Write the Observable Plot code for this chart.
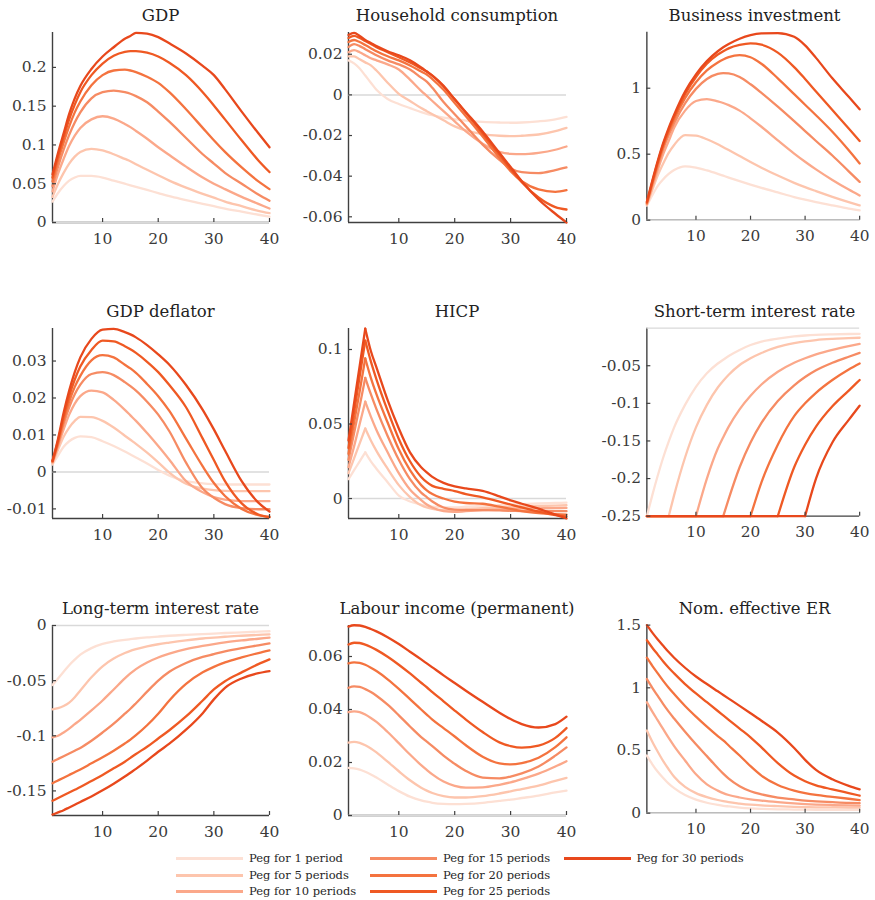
<!DOCTYPE html>
<html>
<head>
<meta charset="utf-8">
<script src="https://cdn.jsdelivr.net/npm/d3@7"></script>
<script src="https://cdn.jsdelivr.net/npm/@observablehq/plot@0.6"></script>
<style>
  html, body { margin: 0; padding: 0; background: #fff; }
  body { width: 875px; height: 900px; position: relative; overflow: hidden; font-family: "DejaVu Serif", serif; }
  .panel { position: absolute; }
  .title { position: absolute; text-align: center; font-size: 16.5px; line-height: 24px; color: #222; white-space: nowrap; }
  .legend-item { position: absolute; height: 16px; display: flex; align-items: center; font-size: 11.5px; color: #262626; white-space: nowrap; }
  .swatch { display: inline-block; width: 67px; height: 2.8px; margin-right: 6px; }
</style>
</head>
<body>
<script>
// ---------------- DATA ----------------
const periods = [1, 2, 3, 4, 5, 6, 8, 10, 12, 14, 15, 16, 18, 20, 22, 25, 28, 30, 32, 35, 38, 40];
const pegLengths = [1, 5, 10, 15, 20, 25, 30];
const seriesLabels = ["Peg for 1 period", "Peg for 5 periods", "Peg for 10 periods", "Peg for 15 periods",
                      "Peg for 20 periods", "Peg for 25 periods", "Peg for 30 periods"];
const pegColors = ["#fde0d4", "#fdc5ad", "#fba88a", "#f68b63", "#f4733f", "#ef5923", "#e8481c"];
const xTicks = [10, 20, 30, 40];

const gdp = [
  [0.027,0.038,0.047,0.054,0.058,0.060,0.060,0.058,0.054,0.050,0.048,0.046,0.042,0.038,0.034,0.029,0.024,0.021,0.018,0.014,0.010,0.0075],
  [0.033,0.050,0.064,0.076,0.085,0.091,0.095,0.093,0.088,0.082,0.079,0.075,0.068,0.061,0.054,0.045,0.037,0.032,0.027,0.021,0.015,0.012],
  [0.040,0.063,0.082,0.099,0.112,0.122,0.133,0.137,0.134,0.127,0.123,0.118,0.108,0.097,0.087,0.072,0.058,0.050,0.043,0.033,0.024,0.018],
  [0.047,0.072,0.094,0.113,0.129,0.142,0.160,0.168,0.170,0.168,0.166,0.163,0.155,0.143,0.130,0.109,0.088,0.076,0.064,0.050,0.036,0.028],
  [0.053,0.080,0.103,0.124,0.142,0.156,0.177,0.190,0.196,0.197,0.196,0.194,0.188,0.180,0.168,0.146,0.122,0.106,0.091,0.071,0.053,0.043],
  [0.058,0.086,0.110,0.133,0.152,0.168,0.190,0.205,0.215,0.220,0.221,0.221,0.219,0.214,0.206,0.190,0.168,0.151,0.133,0.106,0.080,0.065],
  [0.062,0.090,0.115,0.140,0.160,0.176,0.198,0.214,0.226,0.237,0.2405,0.2445,0.2435,0.239,0.231,0.218,0.202,0.190,0.172,0.143,0.115,0.097]
];
const gdpTicks = [0, 0.05, 0.1, 0.15, 0.2];

const consumption = [
  [0.017,0.0155,0.013,0.0095,0.006,0.0025,-0.002,-0.0045,-0.0065,-0.0085,-0.0093,-0.010,-0.0112,-0.012,-0.0127,-0.0133,-0.0136,-0.0137,-0.0136,-0.013,-0.012,-0.0108],
  [0.019,0.019,0.0175,0.016,0.0145,0.012,0.006,0.0005,-0.003,-0.0065,-0.008,-0.0095,-0.0125,-0.0155,-0.0175,-0.0193,-0.0201,-0.0203,-0.0201,-0.0195,-0.0178,-0.0162],
  [0.021,0.022,0.021,0.0195,0.018,0.017,0.015,0.0125,0.0075,0.002,-0.0005,-0.003,-0.008,-0.013,-0.018,-0.024,-0.028,-0.029,-0.0292,-0.0285,-0.027,-0.0254],
  [0.0235,0.025,0.024,0.0225,0.021,0.0195,0.017,0.015,0.0125,0.0085,0.0065,0.0035,-0.0035,-0.0095,-0.0155,-0.0245,-0.032,-0.0362,-0.038,-0.0385,-0.037,-0.0357],
  [0.026,0.027,0.026,0.0245,0.023,0.0215,0.019,0.017,0.0145,0.0115,0.010,0.0078,0.0025,-0.004,-0.0105,-0.0205,-0.031,-0.0375,-0.0425,-0.0465,-0.0477,-0.0469],
  [0.028,0.029,0.028,0.0265,0.025,0.0235,0.021,0.0185,0.016,0.013,0.0115,0.0095,0.0042,-0.0022,-0.0088,-0.019,-0.0295,-0.0365,-0.043,-0.0505,-0.0552,-0.0564],
  [0.0295,0.0305,0.029,0.027,0.0255,0.024,0.0215,0.0195,0.017,0.0135,0.0115,0.0095,0.0045,-0.0022,-0.0085,-0.018,-0.0285,-0.0355,-0.0425,-0.0515,-0.0585,-0.0628]
];
const consumptionTicks = [-0.06, -0.04, -0.02, 0, 0.02];

const investment = [
  [0.11,0.19,0.26,0.31,0.35,0.38,0.408,0.398,0.377,0.351,0.337,0.323,0.296,0.27,0.245,0.21,0.175,0.155,0.137,0.112,0.088,0.075],
  [0.115,0.23,0.34,0.43,0.51,0.57,0.645,0.64,0.613,0.575,0.553,0.531,0.486,0.441,0.398,0.338,0.283,0.25,0.22,0.177,0.137,0.112],
  [0.12,0.25,0.38,0.50,0.60,0.70,0.83,0.903,0.918,0.90,0.888,0.872,0.83,0.772,0.708,0.605,0.505,0.443,0.385,0.305,0.232,0.187],
  [0.125,0.27,0.41,0.54,0.645,0.735,0.885,0.995,1.07,1.108,1.114,1.112,1.085,1.03,0.965,0.86,0.75,0.675,0.60,0.49,0.37,0.29],
  [0.13,0.28,0.43,0.56,0.67,0.765,0.925,1.045,1.135,1.195,1.218,1.235,1.25,1.235,1.185,1.075,0.955,0.875,0.795,0.67,0.53,0.43],
  [0.135,0.29,0.44,0.575,0.685,0.785,0.955,1.085,1.185,1.255,1.28,1.302,1.328,1.34,1.33,1.27,1.16,1.07,0.975,0.835,0.695,0.60],
  [0.14,0.30,0.45,0.585,0.70,0.80,0.975,1.105,1.205,1.28,1.31,1.335,1.375,1.402,1.415,1.418,1.39,1.325,1.23,1.075,0.935,0.84]
];
const investmentTicks = [0, 0.5, 1];

const deflator = [
  [0.002,0.0045,0.0068,0.0083,0.0092,0.0096,0.0094,0.0083,0.007,0.0055,0.0047,0.0039,0.0023,0.0005,-0.001,-0.0025,-0.0031,-0.0033,-0.0034,-0.0034,-0.0034,-0.0034],
  [0.0022,0.006,0.0095,0.012,0.0138,0.0149,0.0148,0.0138,0.012,0.0098,0.0087,0.0076,0.0052,0.0026,-0.0002,-0.0032,-0.0045,-0.0049,-0.0051,-0.0052,-0.0052,-0.0052],
  [0.0025,0.007,0.0115,0.0155,0.0185,0.0205,0.022,0.0215,0.0195,0.0168,0.0153,0.0138,0.0105,0.007,0.0033,-0.0025,-0.0055,-0.0068,-0.0075,-0.0079,-0.0079,-0.0079],
  [0.0027,0.0075,0.013,0.0175,0.021,0.0236,0.0265,0.027,0.0262,0.0243,0.0232,0.022,0.019,0.0155,0.011,0.0025,-0.0045,-0.007,-0.0087,-0.0098,-0.0101,-0.0101],
  [0.0028,0.008,0.014,0.019,0.023,0.026,0.0302,0.0316,0.031,0.029,0.028,0.0268,0.0238,0.0205,0.0165,0.009,0.0015,-0.003,-0.0065,-0.010,-0.0117,-0.0121],
  [0.003,0.0085,0.015,0.0205,0.025,0.0285,0.033,0.0355,0.0353,0.034,0.0332,0.0322,0.0298,0.027,0.0235,0.0175,0.009,0.0032,-0.0025,-0.0085,-0.0115,-0.0123],
  [0.003,0.009,0.016,0.022,0.027,0.031,0.036,0.0385,0.0387,0.0378,0.0372,0.0364,0.0343,0.0318,0.029,0.0235,0.0168,0.0115,0.0058,-0.0025,-0.0083,-0.0107]
];
const deflatorTicks = [-0.01, 0, 0.01, 0.02, 0.03];

const hicp = [
  [0.013,0.019,0.025,0.031,0.025,0.020,0.011,0.002,-0.002,-0.004,-0.005,-0.0055,-0.006,-0.006,-0.0055,-0.005,-0.0045,-0.004,-0.0037,-0.0033,-0.003,-0.0028],
  [0.017,0.027,0.037,0.047,0.039,0.032,0.020,0.009,0.001,-0.0045,-0.006,-0.007,-0.0078,-0.0078,-0.0072,-0.0065,-0.006,-0.0056,-0.0053,-0.005,-0.0047,-0.0045],
  [0.021,0.035,0.050,0.065,0.055,0.046,0.031,0.017,0.006,-0.001,-0.004,-0.006,-0.0085,-0.009,-0.0085,-0.0078,-0.0073,-0.007,-0.0068,-0.0066,-0.0064,-0.0063],
  [0.026,0.044,0.062,0.081,0.070,0.060,0.042,0.026,0.013,0.004,0.001,-0.002,-0.006,-0.0075,-0.0078,-0.0078,-0.008,-0.0082,-0.0084,-0.0085,-0.0085,-0.0085],
  [0.030,0.051,0.072,0.094,0.081,0.070,0.051,0.033,0.019,0.009,0.0055,0.003,0.0,-0.002,-0.003,-0.0035,-0.0055,-0.007,-0.0085,-0.0098,-0.0105,-0.0108],
  [0.034,0.058,0.082,0.106,0.092,0.080,0.059,0.040,0.025,0.0145,0.011,0.0085,0.0065,0.005,0.003,0.0008,-0.002,-0.004,-0.006,-0.0088,-0.0112,-0.0122],
  [0.039,0.064,0.089,0.114,0.099,0.088,0.066,0.047,0.031,0.021,0.0175,0.0145,0.0105,0.0082,0.0068,0.0052,0.0015,-0.0012,-0.0035,-0.0068,-0.0108,-0.0134]
];
const hicpTicks = [0, 0.05, 0.1];
const hicpPeakPeriod = 4;

const shortRate = [
  [-0.25,-0.222,-0.196,-0.172,-0.151,-0.132,-0.102,-0.078,-0.06,-0.047,-0.042,-0.037,-0.029,-0.0225,-0.018,-0.014,-0.011,-0.0098,-0.009,-0.0083,-0.0078,-0.0075],
  [-0.25,-0.25,-0.25,-0.25,-0.25,-0.222,-0.172,-0.132,-0.102,-0.079,-0.07,-0.062,-0.049,-0.04,-0.033,-0.025,-0.02,-0.0175,-0.0158,-0.0143,-0.0134,-0.0128],
  [-0.25,-0.25,-0.25,-0.25,-0.25,-0.25,-0.25,-0.25,-0.2,-0.16,-0.145,-0.131,-0.108,-0.09,-0.075,-0.058,-0.046,-0.04,-0.035,-0.029,-0.024,-0.021],
  [-0.25,-0.25,-0.25,-0.25,-0.25,-0.25,-0.25,-0.25,-0.25,-0.25,-0.25,-0.227,-0.185,-0.152,-0.126,-0.097,-0.076,-0.065,-0.056,-0.046,-0.038,-0.033],
  [-0.25,-0.25,-0.25,-0.25,-0.25,-0.25,-0.25,-0.25,-0.25,-0.25,-0.25,-0.25,-0.25,-0.25,-0.205,-0.155,-0.117,-0.1,-0.086,-0.069,-0.055,-0.047],
  [-0.25,-0.25,-0.25,-0.25,-0.25,-0.25,-0.25,-0.25,-0.25,-0.25,-0.25,-0.25,-0.25,-0.25,-0.25,-0.25,-0.185,-0.155,-0.131,-0.104,-0.083,-0.069],
  [-0.25,-0.25,-0.25,-0.25,-0.25,-0.25,-0.25,-0.25,-0.25,-0.25,-0.25,-0.25,-0.25,-0.25,-0.25,-0.25,-0.25,-0.25,-0.2,-0.152,-0.122,-0.103]
];
const shortRateTicks = [-0.25, -0.2, -0.15, -0.1, -0.05];

const longRate = [
  [-0.054,-0.048,-0.042,-0.036,-0.031,-0.0265,-0.0205,-0.0167,-0.0145,-0.013,-0.0124,-0.0118,-0.0108,-0.010,-0.0093,-0.0085,-0.0078,-0.0073,-0.0068,-0.0062,-0.0056,-0.0052],
  [-0.076,-0.075,-0.073,-0.070,-0.065,-0.059,-0.047,-0.037,-0.030,-0.025,-0.023,-0.0215,-0.019,-0.017,-0.0155,-0.0135,-0.0118,-0.011,-0.0102,-0.0093,-0.0085,-0.008],
  [-0.1015,-0.100,-0.097,-0.0935,-0.0895,-0.0855,-0.077,-0.068,-0.058,-0.048,-0.0435,-0.0395,-0.0335,-0.029,-0.0255,-0.0215,-0.0185,-0.0168,-0.0153,-0.0135,-0.012,-0.011],
  [-0.1235,-0.121,-0.1185,-0.116,-0.1135,-0.111,-0.1045,-0.097,-0.089,-0.080,-0.0755,-0.0705,-0.060,-0.050,-0.042,-0.034,-0.0285,-0.026,-0.0235,-0.0205,-0.018,-0.0163],
  [-0.143,-0.1405,-0.138,-0.1355,-0.133,-0.1305,-0.125,-0.1195,-0.1135,-0.107,-0.1035,-0.0995,-0.0905,-0.080,-0.068,-0.053,-0.0425,-0.0375,-0.0335,-0.029,-0.025,-0.0226],
  [-0.159,-0.1565,-0.154,-0.1515,-0.149,-0.1465,-0.141,-0.1355,-0.1295,-0.1235,-0.120,-0.1165,-0.110,-0.1025,-0.095,-0.0825,-0.068,-0.058,-0.0505,-0.0425,-0.035,-0.0307],
  [-0.1715,-0.1695,-0.1675,-0.165,-0.1625,-0.160,-0.155,-0.1495,-0.1435,-0.137,-0.1335,-0.130,-0.1225,-0.1145,-0.1072,-0.0945,-0.0795,-0.067,-0.0565,-0.048,-0.0432,-0.0413]
];
const longRateTicks = [-0.15, -0.1, -0.05, 0];

const labourIncome = [
  [0.018,0.0178,0.0173,0.0165,0.0155,0.0143,0.0117,0.0092,0.0071,0.0057,0.0052,0.0048,0.0044,0.0043,0.0044,0.0048,0.0055,0.006,0.0066,0.0075,0.0087,0.0094],
  [0.0275,0.0278,0.0274,0.0265,0.0253,0.0238,0.0203,0.0167,0.0133,0.0105,0.0094,0.0085,0.0073,0.0068,0.0068,0.0073,0.0083,0.0091,0.010,0.0113,0.0131,0.0142],
  [0.039,0.0393,0.039,0.0381,0.0368,0.0353,0.0315,0.0273,0.023,0.019,0.0172,0.0155,0.0128,0.0112,0.0105,0.0106,0.0116,0.0125,0.0137,0.0158,0.0185,0.0205],
  [0.0482,0.0487,0.0485,0.0477,0.0466,0.0452,0.0418,0.0378,0.0336,0.0296,0.0279,0.0262,0.0226,0.0195,0.0168,0.0143,0.014,0.0147,0.0159,0.0185,0.0226,0.0257],
  [0.0574,0.0578,0.0576,0.0569,0.0558,0.0545,0.0514,0.0478,0.0439,0.040,0.0381,0.0362,0.033,0.0298,0.0265,0.0222,0.0197,0.0193,0.0198,0.0218,0.0258,0.0295],
  [0.0645,0.0652,0.0651,0.0645,0.0636,0.0625,0.0599,0.0569,0.0536,0.0501,0.0484,0.0466,0.0431,0.0396,0.0362,0.0315,0.0276,0.0262,0.0256,0.0264,0.0293,0.033],
  [0.0713,0.0718,0.0717,0.0712,0.0704,0.0695,0.0673,0.0647,0.0618,0.0589,0.0574,0.0559,0.0529,0.050,0.0471,0.0429,0.0388,0.0364,0.0345,0.0332,0.0345,0.0373]
];
const labourIncomeTicks = [0, 0.02, 0.04, 0.06];

const exchangeRate = [
  [0.46,0.39,0.33,0.28,0.235,0.20,0.145,0.108,0.083,0.066,0.059,0.054,0.045,0.039,0.035,0.031,0.029,0.028,0.027,0.027,0.026,0.026],
  [0.66,0.57,0.49,0.415,0.35,0.29,0.21,0.16,0.128,0.105,0.096,0.088,0.077,0.068,0.062,0.056,0.051,0.049,0.047,0.046,0.045,0.045],
  [0.885,0.81,0.74,0.67,0.60,0.535,0.42,0.31,0.23,0.18,0.16,0.145,0.125,0.11,0.10,0.088,0.078,0.073,0.069,0.065,0.062,0.06],
  [1.07,1.0,0.935,0.87,0.81,0.755,0.65,0.55,0.455,0.36,0.315,0.275,0.215,0.175,0.15,0.125,0.11,0.10,0.095,0.088,0.082,0.08],
  [1.24,1.175,1.115,1.055,1.0,0.95,0.855,0.77,0.69,0.615,0.58,0.54,0.46,0.375,0.30,0.225,0.18,0.16,0.145,0.13,0.115,0.105],
  [1.38,1.32,1.265,1.21,1.16,1.115,1.03,0.955,0.885,0.815,0.78,0.745,0.675,0.605,0.525,0.40,0.30,0.255,0.222,0.19,0.16,0.14],
  [1.5,1.44,1.385,1.335,1.285,1.24,1.16,1.09,1.03,0.972,0.943,0.914,0.856,0.797,0.737,0.643,0.52,0.425,0.345,0.27,0.218,0.19]
];
const exchangeRateTicks = [0, 0.5, 1, 1.5];

// ---------------- PANELS ----------------
const panels = [
  {title: "GDP", data: gdp, domain: [0, 0.245], ticks: gdpTicks},
  {title: "Household consumption", data: consumption, domain: [-0.0628, 0.0307], ticks: consumptionTicks},
  {title: "Business investment", data: investment, domain: [0, 1.425], ticks: investmentTicks},
  {title: "GDP deflator", data: deflator, domain: [-0.0126, 0.0388], ticks: deflatorTicks},
  {title: "HICP", data: hicp, domain: [-0.0134, 0.1141], ticks: hicpTicks, kink: () => hicpPeakPeriod},
  {title: "Short-term interest rate", data: shortRate, domain: [-0.25, 0], ticks: shortRateTicks, kink: s => pegLengths[s]},
  {title: "Long-term interest rate", data: longRate, domain: [-0.1723, 0], ticks: longRateTicks},
  {title: "Labour income (permanent)", data: labourIncome, domain: [0, 0.0717], ticks: labourIncomeTicks},
  {title: "Nom. effective ER", data: exchangeRate, domain: [0, 1.5], ticks: exchangeRateTicks}
];

// ---------------- LAYOUT ----------------
const colLeft = [52, 348, 647];
const colWidth = [217, 218, 215];
const rowTop = [32, 328, 624.5];
const plotH = 190;
const mL = 62, mR = 16, mT = 36, mB = 34;
const axisColor = "#404040", zeroColor = "#d9d9d9", textColor = "#3a3a3a";

panels.forEach((p, idx) => {
  const col = idx % 3, row = Math.floor(idx / 3);
  const W = colWidth[col];
  const lineMarks = p.data.map((vals, s) => {
    const k = p.kink ? p.kink(s) : null;
    const rows = [];
    vals.forEach((v, j) => {
      const x = periods[j];
      if (k == null) rows.push({x, y: v, z: "a"});
      else {
        if (x <= k) rows.push({x, y: v, z: "a"});
        if (x >= k) rows.push({x, y: v, z: "b"});
      }
    });
    return Plot.line(rows, {x: "x", y: "y", z: "z", stroke: pegColors[s], strokeWidth: 2.3, curve: "monotone-x"});
  });
  const chart = Plot.plot({
    width: mL + W + mR, height: mT + plotH + mB,
    marginLeft: mL, marginRight: mR, marginTop: mT, marginBottom: mB,
    x: {domain: [1, 40]},
    y: {domain: p.domain},
    style: {fontFamily: "DejaVu Serif", background: "transparent", overflow: "visible"},
    marks: [
      Plot.ruleY([p.domain[0]], {stroke: axisColor, strokeWidth: 1.4}),
      Plot.ruleX([1], {stroke: axisColor, strokeWidth: 1.4}),
      Plot.ruleY([0], {stroke: zeroColor, strokeWidth: 1.5}),
      ...lineMarks,
      Plot.tickX(xTicks, {x: d => d, stroke: axisColor, strokeWidth: 1.2, insetTop: plotH - 4}),
      Plot.tickY(p.ticks, {y: d => d, stroke: axisColor, strokeWidth: 1.2, insetRight: W - 4}),
      Plot.axisX(xTicks, {tickSize: 0, tickPadding: 10, fontSize: 15.5, fill: textColor, label: null, tickFormat: d => String(d)}),
      Plot.axisY(p.ticks, {tickSize: 0, tickPadding: 6, fontSize: 15.5, fill: textColor, label: null, tickFormat: d => String(d)})
    ]
  });
  const wrap = document.createElement("div");
  wrap.className = "panel";
  wrap.style.left = (colLeft[col] - mL) + "px";
  wrap.style.top = (rowTop[row] - mT) + "px";
  wrap.appendChild(chart);
  document.body.appendChild(wrap);

  const t = document.createElement("div");
  t.className = "title";
  t.textContent = p.title;
  t.style.left = (colLeft[col] - 40) + "px";
  t.style.width = (W + 80) + "px";
  t.style.top = (rowTop[row] - 28) + "px";
  document.body.appendChild(t);
});

// ---------------- LEGEND ----------------
const legendX = [176, 370, 563.5];
const legendY = [858.3, 875.3, 891.3];
seriesLabels.forEach((label, i) => {
  const col = Math.floor(i / 3), row = i % 3;
  const item = document.createElement("div");
  item.className = "legend-item";
  item.style.left = legendX[col] + "px";
  item.style.top = (legendY[row] - 8) + "px";
  const sw = document.createElement("span");
  sw.className = "swatch";
  sw.style.background = pegColors[i];
  item.appendChild(sw);
  item.appendChild(document.createTextNode(label));
  document.body.appendChild(item);
});
</script>
</body>
</html>
